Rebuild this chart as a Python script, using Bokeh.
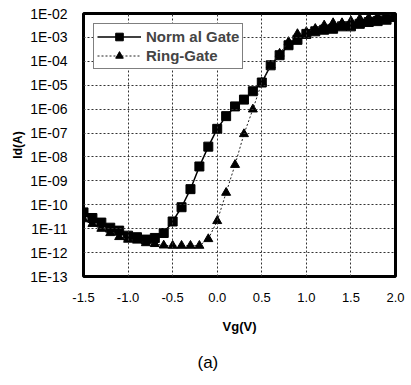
from bokeh.plotting import figure
from bokeh.models import FixedTicker, Legend, LegendItem, Title, Range1d
from bokeh.embed import file_html
from bokeh.resources import INLINE

# Gate voltage (V)
vg = [-1.5, -1.4, -1.3, -1.2, -1.1, -1.0, -0.9, -0.8, -0.7, -0.6, -0.5, -0.4,
      -0.3, -0.2, -0.1, 0.0, 0.1, 0.2, 0.3, 0.4, 0.5, 0.6, 0.7, 0.8,
      0.9, 1.0, 1.1, 1.2, 1.3, 1.4, 1.5, 1.6, 1.7, 1.8, 1.9, 2.0]

# Drain current (A), normal gate
id_normal = [4.8e-11, 2.8e-11, 1.8e-11, 1.1e-11, 8.3e-12, 5.1e-12, 4.4e-12, 3.5e-12,
             4.1e-12, 6.6e-12, 2.0e-11, 7.9e-11, 4.5e-10, 4.0e-09, 2.7e-08, 1.5e-07,
             5.1e-07, 1.3e-06, 2.5e-06, 5.6e-06, 1.3e-05, 6.8e-05, 1.8e-04, 4.7e-04,
             7.9e-04, 1.4e-03, 1.8e-03, 2.1e-03, 2.3e-03, 2.9e-03, 2.9e-03, 3.7e-03,
             4.4e-03, 4.8e-03, 5.5e-03, 7.1e-03]

# Drain current (A), ring gate
id_ring = [2.5e-11, 1.6e-11, 1.0e-11, 6.6e-12, 4.5e-12, 3.5e-12, 3.2e-12, 2.5e-12,
           2.3e-12, 2.0e-12, 1.95e-12, 1.95e-12, 1.95e-12, 1.95e-12, 3.7e-12, 2.1e-11,
           3.2e-10, 4.7e-09, 9.1e-08, 9.8e-07, 1.3e-05, 6.8e-05, 2.1e-04, 6.5e-04,
           1.4e-03, 1.7e-03, 2.3e-03, 3.2e-03, 4.0e-03, 4.0e-03, 4.8e-03, 6.0e-03,
           6.6e-03, 7.5e-03, 8.3e-03, 9.1e-03]

x_ticks = [-1.5, -1.0, -0.5, 0.0, 0.5, 1.0, 1.5, 2.0]
x_tick_labels = ["-1.5", "-1.0", "-0.5", "0.0", "0.5", "1.0", "1.5", "2.0"]
y_ticks = [1e-2, 1e-3, 1e-4, 1e-5, 1e-6, 1e-7, 1e-8, 1e-9, 1e-10, 1e-11, 1e-12, 1e-13]
y_tick_labels = ["1E-02", "1E-03", "1E-04", "1E-05", "1E-06", "1E-07", "1E-08",
                 "1E-09", "1E-10", "1E-11", "1E-12", "1E-13"]

series_labels = ["Norm al Gate", "Ring-Gate"]
caption = "(a)"

p = figure(width=411, height=385, output_backend="svg", toolbar_location=None,
           y_axis_type="log", x_range=Range1d(-1.5, 2.0), y_range=Range1d(1e-13, 1e-2),
           min_border_left=83, min_border_right=16, min_border_top=13, min_border_bottom=60)

p.background_fill_color = "white"
p.border_fill_color = "white"
p.outline_line_color = "black"
p.outline_line_width = 3

font = "Liberation Sans"

x_ticker = FixedTicker(ticks=x_ticks)
y_ticker = FixedTicker(ticks=y_ticks)
p.xaxis[0].ticker = x_ticker
p.yaxis[0].ticker = y_ticker
p.xgrid[0].ticker = x_ticker
p.ygrid[0].ticker = y_ticker
p.xaxis.major_label_overrides = dict(zip(x_ticks, x_tick_labels))
p.yaxis.major_label_overrides = dict(zip(y_ticks, y_tick_labels))

for ax in (p.xaxis, p.yaxis):
    ax.axis_line_color = None
    ax.major_tick_line_color = None
    ax.minor_tick_line_color = None
    ax.major_label_text_font = font
    ax.major_label_text_color = "black"
    ax.axis_label_text_font = font
    ax.axis_label_text_font_style = "bold"
    ax.axis_label_text_color = "black"

p.xaxis.major_label_text_font_size = "13px"
p.yaxis.major_label_text_font_size = "14px"
p.xaxis.major_label_standoff = 10
p.yaxis.major_label_standoff = 10
p.xaxis.axis_label = "Vg(V)"
p.yaxis.axis_label = "Id(A)"
p.xaxis.axis_label_text_font_size = "13px"
p.yaxis.axis_label_text_font_size = "12px"
p.xaxis.axis_label_standoff = 14
p.yaxis.axis_label_standoff = 2

for g in (p.xgrid[0], p.ygrid[0]):
    g.grid_line_color = "#333333"
    g.grid_line_dash = "2 2"
    g.grid_line_width = 1
    g.grid_line_alpha = 1.0
    g.level = "glyph"

l1 = p.line(vg, id_normal, line_color="black", line_width=1.5)
m1 = p.scatter(vg, id_normal, marker="square", size=9, fill_color="black", line_color="black")
l2 = p.line(vg, id_ring, line_color="#222222", line_width=1, line_dash="2 2")
m2 = p.scatter(vg, id_ring, marker="triangle", size=9, fill_color="black", line_color="black")

legend = Legend(items=[LegendItem(label=series_labels[0], renderers=[l1, m1]),
                       LegendItem(label=series_labels[1], renderers=[l2, m2])],
                location="top_left", margin=10, padding=3, spacing=0,
                glyph_height=19, label_height=19, glyph_width=44, label_standoff=5,
                label_text_font=font, label_text_font_style="bold",
                label_text_font_size="15px",
                border_line_color="black", border_line_width=1.5,
                background_fill_color="white", background_fill_alpha=1.0)
p.add_layout(legend)

cap = Title(text=caption, align="left", offset=114, text_font=font,
            text_font_size="17px", text_font_style="normal", text_color="black",
            standoff=28)
p.add_layout(cap, "below")

open("out.html", "w").write(file_html(p, INLINE))
